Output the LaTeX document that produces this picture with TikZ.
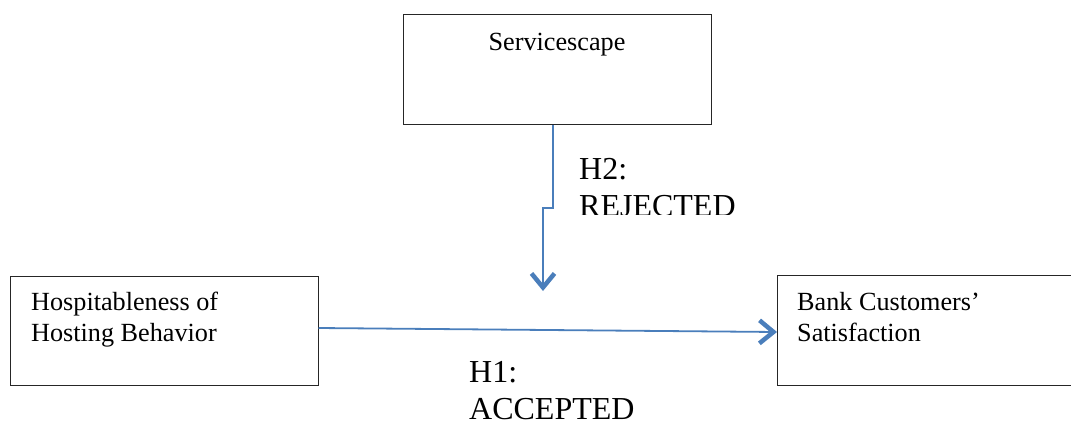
\documentclass[tikz,border=0pt]{standalone}
\usepackage{fontspec}
\setmainfont{Liberation Serif}
\usetikzlibrary{arrows.meta}
\definecolor{conncol}{RGB}{74,126,187}
\tikzset{
  box/.style={draw=black!85, line width=1pt, rectangle, inner sep=0pt},
  boxtext/.style={font=\fontsize{26.2}{31}\selectfont, align=left, inner sep=0pt},
  lbl/.style={font=\fontsize{32}{37}\selectfont, align=left, inner sep=0pt},
  conn/.style={draw=conncol, line width=1.8pt, -{Straight Barb[length=14pt,width=23pt,line width=4.5pt]}}
}
\begin{document}
\begin{tikzpicture}[x=1pt,y=-1pt]
\useasboundingbox (0,0) rectangle (1071,421);
\clip (0,0) rectangle (1071,421);
% boxes
\node[box, minimum width=308pt, minimum height=110pt] (sv) at (557,69.5) {};
\node[box, minimum width=308pt, minimum height=109pt] (hb) at (164,330.5) {};
\node[box, minimum width=308pt, minimum height=110pt, anchor=west] (bc) at (777,330) {};
% box texts
\node[boxtext, anchor=base] (svt) at (557,50) {Servicescape};
\node[boxtext, anchor=base west] (hbt) at (31,341) {Hospitableness of\\Hosting Behavior};
\node[boxtext, anchor=base west] (bct) at (797,341) {Bank Customers’\\Satisfaction};
% connectors
\draw[conn] ([yshift=2.5pt]hb.east) -- ([yshift=-2pt]bc.west);
\coordinate (h2tip) at (543,291);
\draw[conn] ([xshift=-4pt]sv.south) -- ++(0,83) -- ++(-10,0) -- (h2tip);
% labels
\begin{scope}
\clip (560,140) rectangle (760,214);
\node[lbl, anchor=base west] (h2) at (579,216) {H2:\\REJECTED};
\end{scope}
\node[lbl, anchor=base west] (h1) at (469,419) {H1:\\ACCEPTED};
\end{tikzpicture}
\end{document}
